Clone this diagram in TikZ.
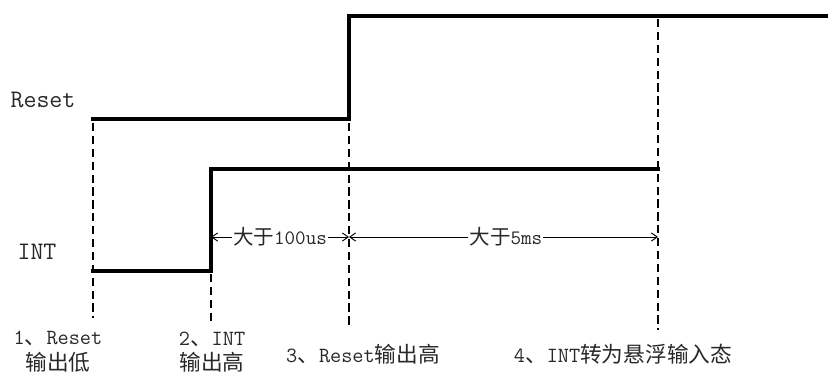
\documentclass[tikz,border=0pt]{standalone}
\usepackage{fontspec}
\newfontfamily\cjk{Noto Sans CJK SC}
\usetikzlibrary{arrows.meta}
\definecolor{Ink}{RGB}{0,0,0}
\definecolor{Label}{RGB}{40,40,40}
\newcommand{\zh}[1]{{\cjk #1}}

\begin{document}
\begin{tikzpicture}[x=0.3mm, y=-0.3mm,
	signal/.style={draw=Ink, line width=3.4pt},
	marker/.style={draw=Ink, line width=1.2pt, dash pattern=on 7pt off 4pt},
	span/.style={draw=Ink, line width=0.8pt, {Straight Barb[length=5pt,width=7pt]}-{Straight Barb[length=5pt,width=7pt]}},
	txt/.style={text=Label, align=center, font=\fontsize{18.5}{22}\selectfont\ttfamily},
	gap/.style={txt, fill=white, inner sep=1pt, font=\fontsize{17.5}{20}\selectfont\ttfamily}]

		\useasboundingbox (0,0) rectangle (828,383);

		% Signals
		\coordinate (r0) at (91,119);
		\coordinate (r1) at (349,119);
		\coordinate (r2) at (349,16);
		\coordinate (r3) at (840,16);
		\draw[signal] (r0) -- (r1) -- (r2) -- (r3);

		\coordinate (i0) at (91,271);
		\coordinate (i1) at (211,271);
		\coordinate (i2) at (211,169);
		\coordinate (i3) at (660,169);
		\draw[signal] (i0) -- (i1) -- (i2) -- (i3);

		% Markers
		\coordinate (m1a) at (93,123);  \coordinate (m1b) at (93,318);
		\coordinate (m2a) at (211,274); \coordinate (m2b) at (211,323);
		\coordinate (m3a) at (349,123); \coordinate (m3b) at (349,326);
		\coordinate (m4a) at (658,19);  \coordinate (m4b) at (658,330);
		\draw[marker] (m1a) -- (m1b);
		\draw[marker] (m2a) -- (m2b);
		\draw[marker] (m3a) -- (m3b);
		\draw[marker] (m4a) -- (m4b);

		% Intervals
		\coordinate (t2) at (211,237);
		\coordinate (t3) at (349,237);
		\coordinate (t4) at (658,237);
		\draw[span] (t2) -- node[gap] (d1) {\zh{大于}100us} (t3);
		\draw[span] (t3) -- node[gap, xshift=2] (d2) {\zh{大于}5ms} (t4);

		% Text
		\node[txt, font=\fontsize{21.5}{25}\selectfont\ttfamily] (reset) at (43,100) {Reset};
		\node[txt, font=\fontsize{21.5}{25}\selectfont\ttfamily] (int) at (37,252) {INT};

		\node[txt] (s1) at (58,352) {1\zh{、}Reset\\\zh{输出低}};
		\node[txt] (s2) at (212,352) {2\zh{、}INT\\\zh{输出高}};
		\node[txt] (s3) at (363,354) {3\zh{、}Reset\zh{输出高}};
		\node[txt] (s4) at (623,354) {4\zh{、}INT\zh{转为悬浮输入态}};

	\end{tikzpicture}
\end{document}
